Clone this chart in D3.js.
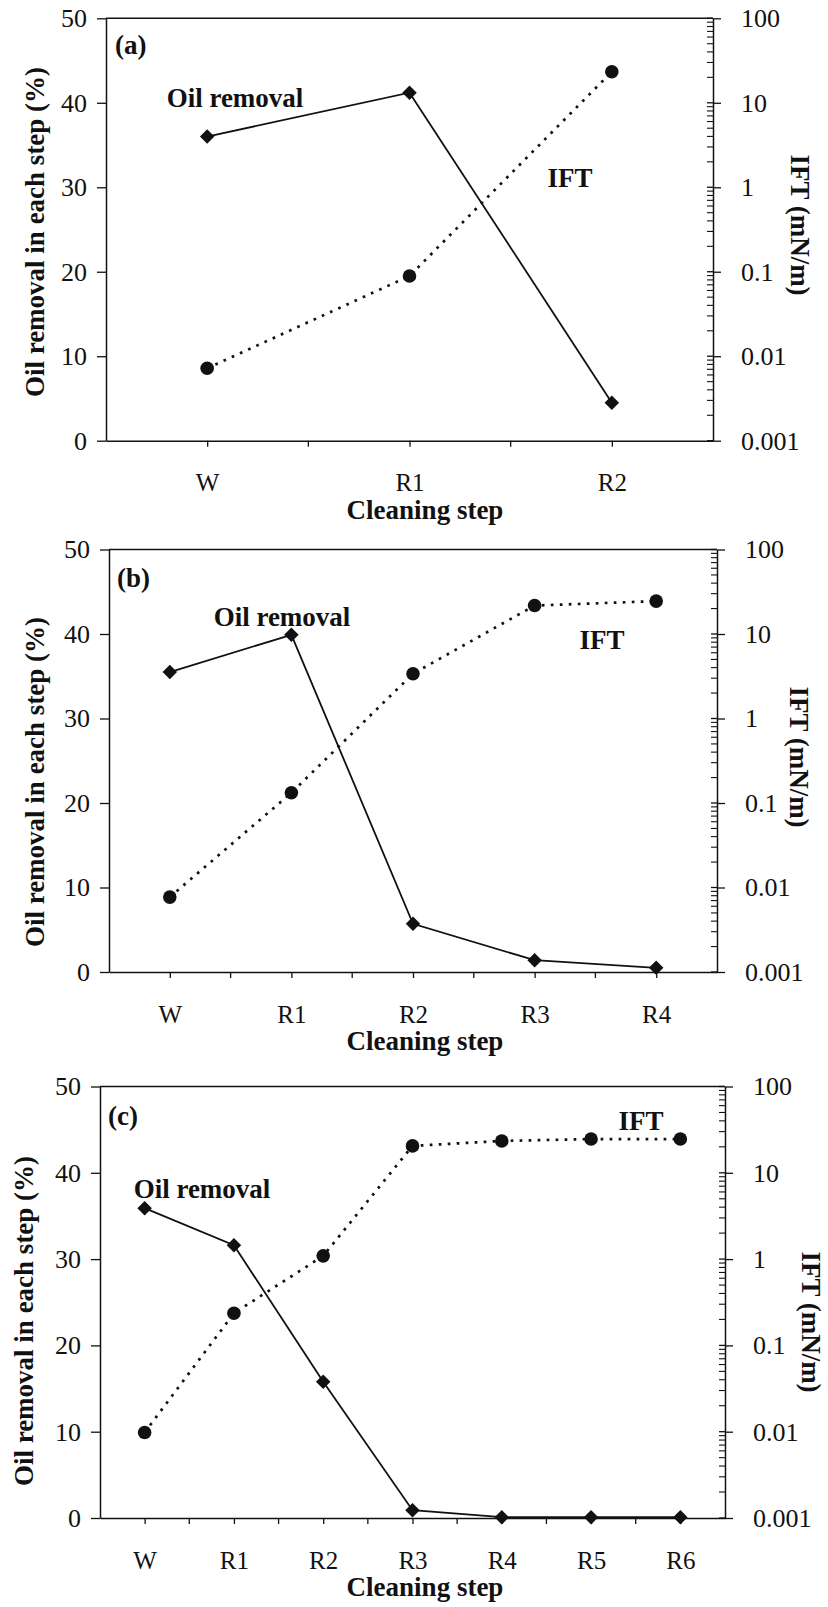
<!DOCTYPE html>
<html>
<head>
<meta charset="utf-8">
<script src="https://cdn.jsdelivr.net/npm/d3@7"></script>
<style>
  html, body { margin: 0; padding: 0; background: #fff; }
  svg { display: block; }
  text { font-family: "Liberation Serif", "Times New Roman", Times, serif; fill: #111; }
</style>
</head>
<body>
<svg id="chart" width="828" height="1607"></svg>
<script>
// ---------------- DATA ----------------
const categoriesA = ["W", "R1", "R2"];
const oilA = [36.0, 41.2, 4.5];
const iftA = [0.0072, 0.089, 23.3];

const categoriesB = ["W", "R1", "R2", "R3", "R4"];
const oilB = [35.5, 39.9, 5.7, 1.4, 0.5];
const iftB = [0.0077, 0.132, 3.39, 21.7, 24.5];

const categoriesC = ["W", "R1", "R2", "R3", "R4", "R5", "R6"];
const oilC = [35.9, 31.6, 15.8, 0.9, 0.1, 0.1, 0.1];
const iftC = [0.0098, 0.236, 1.09, 20.5, 23.4, 24.6, 24.6];

const leftTicks = [0, 10, 20, 30, 40, 50];
const rightTicks = [0.001, 0.01, 0.1, 1, 10, 100];
const rightTickLabels = ["0.001", "0.01", "0.1", "1", "10", "100"];

const panelLabels = ["(a)", "(b)", "(c)"];
const oilName = "Oil removal";
const iftName = "IFT";
const leftTitle = "Oil removal in each step (%)";
const rightTitle = "IFT (mN/m)";
const xTitle = "Cleaning step";

// ---------------- LAYOUT ----------------
const panels = [
  { cats: categoriesA, oil: oilA, ift: iftA, label: panelLabels[0],
    left: 106, right: 713, top: 18.3, bottom: 440.7,
    labelPos: [115, 45], oilPos: [235, 98], iftPos: [570, 178],
    leftTitleX: 35, leftTitleY: 232, rightTitleX: 800, rightTitleY: 225 },
  { cats: categoriesB, oil: oilB, ift: iftB, label: panelLabels[1],
    left: 109, right: 717, top: 549.5, bottom: 972,
    labelPos: [117, 578], oilPos: [282, 616.5], iftPos: [602, 639.5],
    leftTitleX: 35, leftTitleY: 782, rightTitleX: 799, rightTitleY: 757 },
  { cats: categoriesC, oil: oilC, ift: iftC, label: panelLabels[2],
    left: 100, right: 725, top: 1086.5, bottom: 1518,
    labelPos: [108, 1116], oilPos: [202, 1189], iftPos: [641, 1121],
    leftTitleX: 24, leftTitleY: 1321, rightTitleX: 811, rightTitleY: 1322 }
];

const ink = "#111";
const serif = "Liberation Serif, Times New Roman, Times, serif";
const svg = d3.select("#chart");

function drawPanel(p) {
  const g = svg.append("g");
  const xs = d3.scalePoint().domain(p.cats).range([p.left, p.right]).padding(0.5);
  const yL = d3.scaleLinear().domain([0, 50]).range([p.bottom, p.top]);
  const yR = d3.scaleLog().domain([0.001, 100]).range([p.bottom, p.top]);

  // top border
  g.append("line").attr("x1", p.left).attr("x2", p.right)
    .attr("y1", p.top).attr("y2", p.top)
    .attr("stroke", ink).attr("stroke-width", 1.5);

  // left axis
  const la = g.append("g").attr("transform", `translate(${p.left},0)`)
    .call(d3.axisLeft(yL).tickValues(leftTicks).tickSize(9).tickSizeOuter(0).tickPadding(10));
  la.attr("font-family", serif);
  la.selectAll("text").attr("font-size", 26).attr("fill", ink);

  // right axis (log)
  const ra = g.append("g").attr("transform", `translate(${p.right},0)`)
    .call(d3.axisRight(yR).tickValues(rightTicks)
      .tickFormat((d, i) => rightTickLabels[i]).tickSize(8).tickSizeOuter(0).tickPadding(20));
  ra.attr("font-family", serif);
  ra.selectAll("text").attr("font-size", 26).attr("fill", ink);
  // inner part of major ticks
  g.selectAll(null).data(rightTicks).enter().append("line")
    .attr("x1", p.right - 6).attr("x2", p.right)
    .attr("y1", d => yR(d)).attr("y2", d => yR(d))
    .attr("stroke", ink).attr("stroke-width", 1.3);
  // minor log ticks (inside)
  const minor = [];
  rightTicks.slice(0, -1).forEach(dec => { for (let m = 2; m <= 9; m++) minor.push(dec * m); });
  g.selectAll(null).data(minor).enter().append("line")
    .attr("x1", p.right - 6).attr("x2", p.right)
    .attr("y1", d => yR(d)).attr("y2", d => yR(d))
    .attr("stroke", ink).attr("stroke-width", 1.1);

  // bottom axis
  const ba = g.append("g").attr("transform", `translate(0,${p.bottom})`)
    .call(d3.axisBottom(xs).tickSize(6).tickSizeOuter(0).tickPadding(27));
  ba.attr("font-family", serif);
  ba.selectAll("text").attr("font-size", 25).attr("fill", ink);
  const step = xs.step();
  g.selectAll(null).data(p.cats.slice(1)).enter().append("line")
    .attr("x1", d => xs(d) - step / 2).attr("x2", d => xs(d) - step / 2)
    .attr("y1", p.bottom).attr("y2", p.bottom + 6)
    .attr("stroke", ink).attr("stroke-width", 1.3);

  [la, ra, ba].forEach(a => {
    a.selectAll(".domain").attr("stroke", ink).attr("stroke-width", 1.5);
    a.selectAll(".tick line").attr("stroke", ink).attr("stroke-width", 1.3);
  });

  // lines
  const oilPts = p.cats.map((c, i) => [xs(c), yL(p.oil[i])]);
  const iftPts = p.cats.map((c, i) => [xs(c), yR(p.ift[i])]);
  const line = d3.line();
  g.append("path").attr("d", line(iftPts)).attr("fill", "none")
    .attr("stroke", ink).attr("stroke-width", 2.7)
    .attr("stroke-dasharray", "2.7,6.3");
  g.append("path").attr("d", line(oilPts)).attr("fill", "none")
    .attr("stroke", ink).attr("stroke-width", 1.8);

  // markers
  const diamond = d3.symbol().type(d3.symbolSquare).size(105);
  g.selectAll(null).data(oilPts).enter().append("path")
    .attr("d", diamond)
    .attr("transform", d => `translate(${d[0]},${d[1]}) rotate(45)`)
    .attr("fill", ink);
  const circle = d3.symbol().type(d3.symbolCircle).size(145);
  g.selectAll(null).data(iftPts).enter().append("path")
    .attr("d", circle)
    .attr("transform", d => `translate(${d[0]},${d[1]})`)
    .attr("fill", ink);

  // texts
  const txt = (x, y, s, anchor) => g.append("text").attr("x", x).attr("y", y)
    .attr("text-anchor", anchor).attr("dominant-baseline", "central")
    .attr("font-family", serif).attr("font-size", 27).attr("font-weight", "bold").text(s);
  txt(p.labelPos[0], p.labelPos[1], p.label, "start");
  txt(p.oilPos[0], p.oilPos[1], oilName, "middle");
  txt(p.iftPos[0], p.iftPos[1], iftName, "middle");
  txt(425, p.bottom + 69, xTitle, "middle");

  g.append("text")
    .attr("transform", `translate(${p.leftTitleX},${p.leftTitleY}) rotate(-90)`)
    .attr("text-anchor", "middle").attr("dominant-baseline", "central")
    .attr("font-family", serif).attr("font-size", 27).attr("font-weight", "bold").text(leftTitle);
  g.append("text")
    .attr("transform", `translate(${p.rightTitleX},${p.rightTitleY}) rotate(90)`)
    .attr("text-anchor", "middle").attr("dominant-baseline", "central")
    .attr("font-family", serif).attr("font-size", 27).attr("font-weight", "bold").text(rightTitle);
}

panels.forEach(drawPanel);
</script>
</body>
</html>
